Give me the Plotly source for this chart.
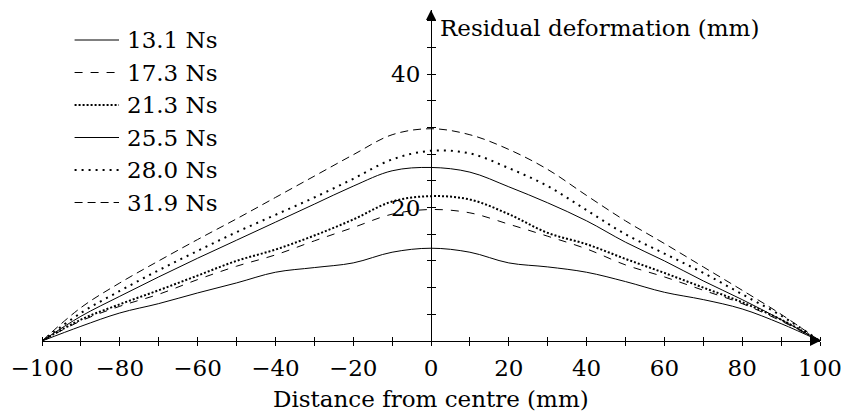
import plotly.graph_objects as go

# Distance from centre (mm), sampled every 10 mm
distance = [-100, -90, -80, -70, -60, -50, -40, -30, -20, -10, 0,
            10, 20, 30, 40, 50, 60, 70, 80, 90, 100]

# Residual deformation (mm) for each impulse
def_13_1 = [0, 2.2, 4.2, 5.6, 7.2, 8.7, 10.3, 11.0, 11.7, 13.3, 13.9,
            13.3, 11.7, 11.1, 10.3, 8.9, 7.3, 6.2, 4.8, 2.6, 0]
def_17_3 = [0, 3.0, 5.2, 7.0, 9.2, 11.2, 12.9, 15.0, 17.0, 19.0, 19.7,
            19.2, 17.5, 15.7, 13.8, 11.4, 9.6, 7.6, 5.6, 3.0, 0]
def_21_3 = [0, 3.2, 5.5, 7.6, 9.8, 12.0, 13.7, 15.8, 18.2, 20.9, 21.7,
            21.2, 19.0, 16.2, 14.5, 12.3, 10.2, 8.0, 5.8, 3.2, 0]
def_25_5 = [0, 3.7, 6.7, 9.6, 12.4, 15.1, 17.8, 20.5, 23.2, 25.5, 26.0,
            25.3, 23.1, 20.7, 18.0, 14.8, 12.0, 9.0, 6.2, 3.2, 0]
def_28_0 = [0, 4.2, 7.5, 10.6, 13.5, 16.3, 18.9, 21.5, 24.3, 27.2, 28.5,
            28.1, 25.9, 23.2, 19.6, 16.0, 13.1, 10.2, 7.0, 3.8, 0]
def_31_9 = [0, 5.0, 8.7, 12.0, 15.2, 18.3, 21.5, 24.7, 27.9, 30.9, 31.8,
            30.9, 28.7, 25.7, 21.8, 18.0, 14.6, 11.1, 7.6, 4.0, 0]

series_names = ["13.1 Ns", "17.3 Ns", "21.3 Ns", "25.5 Ns", "28.0 Ns", "31.9 Ns"]
series_values = [def_13_1, def_17_3, def_21_3, def_25_5, def_28_0, def_31_9]
series_dash = ["solid", "8px,8px", "2px,2px", "solid", "2px,5px", "8px,5px"]
series_width = [1, 1, 2, 1, 2, 1]

x_ticks = [-100, -80, -60, -40, -20, 0, 20, 40, 60, 80, 100]
x_minor = [-90, -70, -50, -30, -10, 10, 30, 50, 70, 90]
y_ticks = [20, 40]
y_minor = [4, 8, 12, 16, 24, 28, 32, 36, 44, 48]

FONT = "DejaVu Serif"
FS = 23
W, H = 852, 419
M_L, M_R, M_T, M_B = 40, 24, 10, 78
Y_MAX = 49.59


def px_x(p):
    return (p - M_L) / (W - M_L - M_R)


def px_y(p):
    return 1 - (p - M_T) / (H - M_T - M_B)


fig = go.Figure()
for name, vals, dash, lw in zip(series_names, series_values, series_dash, series_width):
    fig.add_trace(go.Scatter(
        x=distance, y=vals, name=name, mode="lines",
        line=dict(color="black", width=lw, dash=dash, shape="spline", smoothing=1),
        showlegend=False,
    ))

# Off-range trace so the mirrored tick axes (x2 / y2) get rendered
fig.add_trace(go.Scatter(x=[0], y=[-10], xaxis="x2", yaxis="y2", mode="lines",
                         showlegend=False, hoverinfo="skip"))

# Legend drawn as line samples plus labels
shapes = []
annotations = []
legend_rows = [40, 72.5, 105, 137.5, 170, 202.5]
for name, dash, lw, row in zip(series_names, series_dash, series_width, legend_rows):
    shapes.append(dict(type="line", xref="paper", yref="paper",
                       x0=px_x(73), x1=px_x(118), y0=px_y(row), y1=px_y(row),
                       line=dict(color="black", width=lw, dash=dash)))
    annotations.append(dict(text=name, xref="paper", yref="paper",
                            x=px_x(124), y=px_y(row), xanchor="left", yanchor="middle",
                            showarrow=False, font=dict(family=FONT, size=FS, color="black")))

# Axis titles
annotations.append(dict(text="Residual deformation (mm)", xref="paper", yref="paper",
                        x=px_x(441), y=px_y(28), xanchor="left", yanchor="middle",
                        showarrow=False, font=dict(family=FONT, size=FS, color="black")))
annotations.append(dict(text="Distance from centre (mm)", xref="paper", yref="paper",
                        x=0.5, y=px_y(399), xanchor="center", yanchor="middle",
                        showarrow=False, font=dict(family=FONT, size=FS, color="black")))

# Axis arrowheads
annotations.append(dict(text="", x=100, y=0, xref="x", yref="y", ax=-10, ay=0,
                        showarrow=True, arrowhead=2, arrowsize=2, arrowwidth=1,
                        arrowcolor="black"))
annotations.append(dict(text="", x=0, y=Y_MAX, xref="x", yref="y", ax=0, ay=10,
                        showarrow=True, arrowhead=2, arrowsize=2, arrowwidth=1,
                        arrowcolor="black"))

tick_common = dict(ticklen=4, tickwidth=1, tickcolor="black")

fig.update_layout(
    width=W, height=H,
    margin=dict(l=M_L, r=M_R, t=M_T, b=M_B),
    paper_bgcolor="white", plot_bgcolor="white",
    font=dict(family=FONT, size=FS, color="black"),
    xaxis=dict(range=[-100, 100], showgrid=False, zeroline=False,
               showline=True, linecolor="black", linewidth=1,
               ticks="outside", tickmode="array", tickvals=x_ticks,
               ticklabelstandoff=2,
               minor=dict(tickvals=x_minor, ticks="outside", **tick_common),
               tickfont=dict(family=FONT, size=FS), **tick_common),
    xaxis2=dict(range=[-100, 100], overlaying="x", side="top", anchor="free", position=0,
                showgrid=False, zeroline=False, showline=False, showticklabels=False,
                ticks="outside", tickmode="array", tickvals=x_ticks,
                minor=dict(tickvals=x_minor, ticks="outside", **tick_common),
                **tick_common),
    yaxis=dict(range=[0, Y_MAX], anchor="free", position=0.5, side="left",
               showgrid=False, zeroline=False,
               showline=True, linecolor="black", linewidth=1,
               ticks="outside", tickmode="array", tickvals=y_ticks,
               ticklabelstandoff=2,
               minor=dict(tickvals=y_minor, ticks="outside", **tick_common),
               tickfont=dict(family=FONT, size=FS), **tick_common),
    yaxis2=dict(range=[0, Y_MAX], overlaying="y", side="right", anchor="free", position=0.5,
                showgrid=False, zeroline=False, showline=False, showticklabels=False,
                ticks="outside", tickmode="array", tickvals=y_ticks,
                minor=dict(tickvals=y_minor, ticks="outside", **tick_common),
                **tick_common),
    shapes=shapes,
    annotations=annotations,
)

fig.write_html("out.html")
